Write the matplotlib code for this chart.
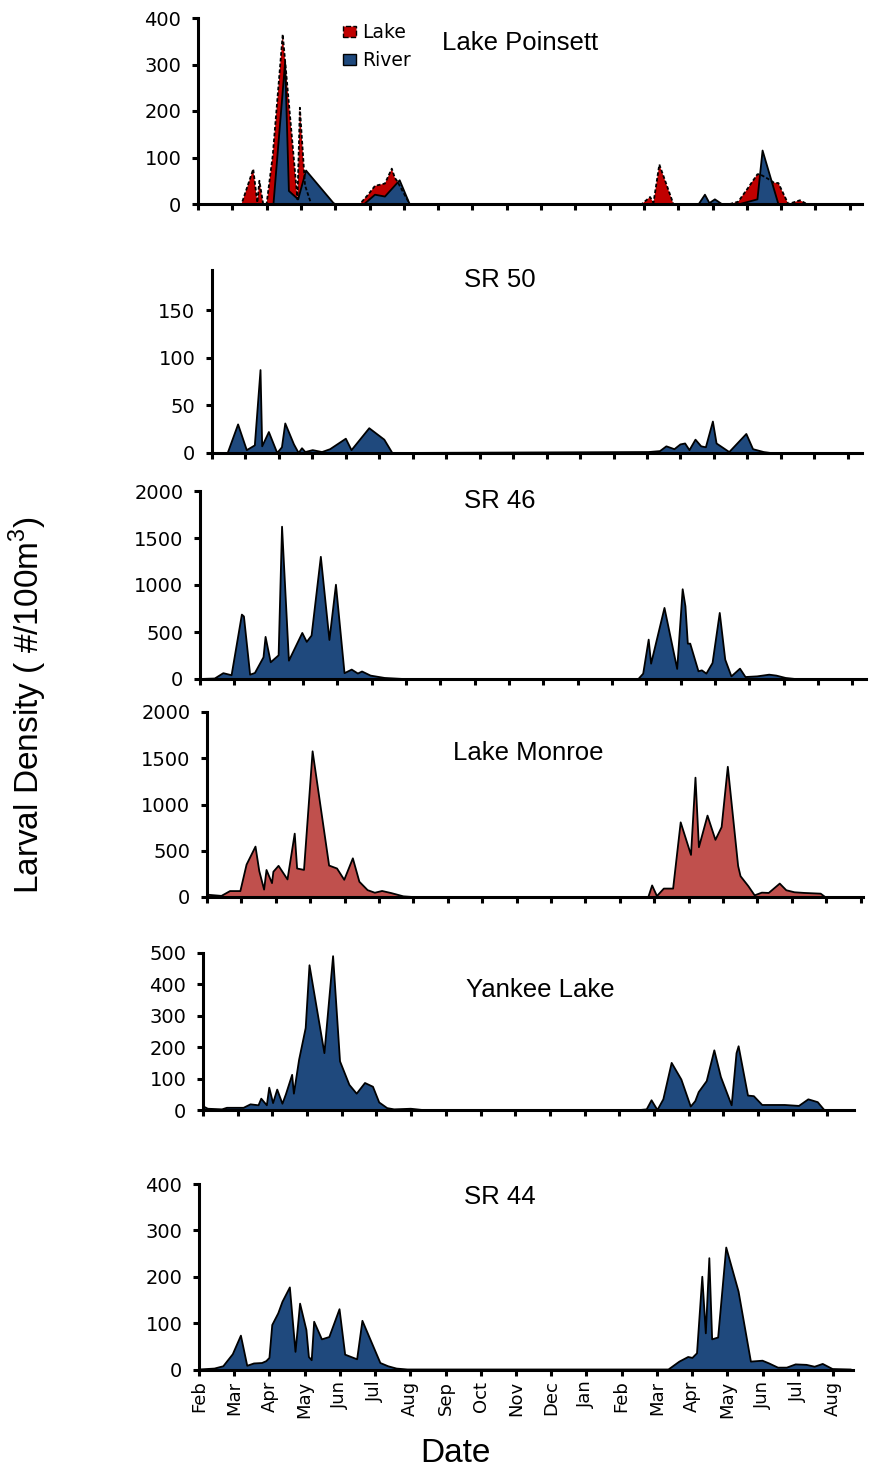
import matplotlib
matplotlib.use("Agg")
import matplotlib.pyplot as plt
from matplotlib.patches import Patch

# x positions are months since 1 Feb of the first year (0 = Feb, 12 = Feb next year)
months = ["Feb", "Mar", "Apr", "May", "Jun", "Jul", "Aug", "Sep", "Oct", "Nov",
          "Dec", "Jan", "Feb", "Mar", "Apr", "May", "Jun", "Jul", "Aug"]

poinsett_lake_m = [0, 1.27, 1.61, 1.73, 1.79, 1.90, 2.0, 2.18, 2.47, 2.9, 2.97, 3.12, 3.3,
                   4.72, 4.97, 5.16, 5.45, 5.65, 5.74, 5.80, 6.17, 12.94, 13.18, 13.28, 13.45, 13.86,
                   15.51, 15.75, 16.04, 16.31, 16.38, 16.6, 16.79, 16.92, 17.21, 17.55, 17.75, 19.0]
poinsett_lake_v = [0, 0, 75, 3, 50, 0, 0, 105, 365, 10, 207, 40, 0,
                   0, 21, 39, 44, 76, 56, 50, 0, 0, 15, 3, 85, 0,
                   0, 5, 35, 64, 64, 55, 46, 45, 0, 8, 0, 0]
poinsett_river_m = [0, 2.2, 2.54, 2.65, 2.92, 3.15, 3.95, 4.0, 4.85, 5.16, 5.45, 5.88, 6.17,
                    14.6, 14.78, 14.91, 15.07, 15.27, 15.8, 16.31, 16.46, 16.92, 19.0]
poinsett_river_v = [0, 0, 305, 28, 10, 72, 2, 0, 0, 20, 16, 51, 0,
                    0, 20, 2, 10, 0, 0, 10, 115, 0, 0]

sr50_m = [0, 0.47, 0.78, 1.04, 1.28, 1.45, 1.50, 1.70, 1.95, 2.09, 2.19, 2.45, 2.59, 2.69,
          2.79, 3.01, 3.29, 3.53, 4.0, 4.17, 4.70, 5.15, 5.39, 13.05, 13.39, 13.58, 13.82,
          14.0, 14.14, 14.27, 14.45, 14.62, 14.76, 14.97, 15.08, 15.46, 15.97, 16.17, 16.49,
          16.7, 19.0]
sr50_v = [0, 0, 30, 3, 8, 87, 7, 22, 0, 6, 31, 9, 0, 5,
          1, 3, 1, 4, 15, 3, 26, 14, 0, 1, 2, 7, 4,
          9, 10, 3, 14, 7, 6, 33, 10, 1, 20, 4, 1,
          0, 0]

sr46_m = [0, 0.43, 0.68, 0.92, 1.22, 1.28, 1.46, 1.60, 1.85, 1.91, 2.06, 2.29, 2.39, 2.59,
          2.98, 3.11, 3.25, 3.52, 3.77, 3.96, 4.21, 4.42, 4.60, 4.72, 4.97, 5.38, 5.93,
          12.77, 12.91, 13.07, 13.14, 13.53, 13.90, 14.06, 14.14, 14.21, 14.28, 14.52, 14.62,
          14.75, 14.93, 15.14, 15.30, 15.48, 15.73, 15.89, 16.23, 16.58, 16.79, 17.06, 17.34, 19.0]
sr46_v = [0, 5, 62, 40, 685, 665, 46, 64, 231, 448, 178, 252, 1620, 195,
          490, 395, 462, 1300, 415, 1003, 62, 100, 58, 80, 36, 11, 0,
          0, 57, 419, 163, 756, 107, 955, 774, 376, 376, 82, 92,
          57, 170, 703, 206, 28, 110, 21, 28, 46, 36, 11, 0, 0]

monroe_m = [0, 0.42, 0.67, 0.97, 1.15, 1.41, 1.52, 1.66, 1.73, 1.89, 1.93, 2.08, 2.34, 2.55,
            2.62, 2.82, 3.07, 3.55, 3.78, 3.99, 4.24, 4.43, 4.67, 4.88, 5.09, 5.36, 5.71, 5.98,
            12.83, 12.94, 13.08, 13.28, 13.55, 13.77, 14.07, 14.20, 14.30, 14.55, 14.78, 14.96,
            15.14, 15.44, 15.51, 15.74, 15.92, 16.13, 16.33, 16.65, 16.84, 17.08, 17.36, 17.84,
            17.97, 19.0]
monroe_v = [25, 12, 64, 64, 350, 545, 280, 80, 292, 150, 273, 337, 190, 685,
            308, 293, 1575, 340, 308, 186, 418, 165, 74, 46, 65, 42, 7, 0,
            0, 125, 10, 91, 91, 807, 455, 1290, 538, 880, 618, 756,
            1408, 335, 225, 116, 18, 47, 44, 145, 73, 51, 44, 36,
            0, 0]

yankee_m = [0, 0.14, 0.55, 0.69, 1.17, 1.37, 1.6, 1.68, 1.84, 1.91, 2.02, 2.14, 2.29, 2.39,
            2.57, 2.62, 2.77, 2.96, 3.07, 3.50, 3.75, 3.95, 4.22, 4.43, 4.67, 4.90, 5.08, 5.31,
            5.51, 5.99, 6.33, 12.6, 12.79, 12.93, 13.1, 13.27, 13.51, 13.79, 14.06, 14.19, 14.29,
            14.52, 14.74, 14.93, 15.24, 15.38, 15.44, 15.71, 15.88, 16.12, 16.77, 17.18, 17.45,
            17.72, 17.91]
yankee_v = [12, 4, 2, 7, 7, 18, 15, 36, 15, 71, 22, 65, 20, 50,
            112, 52, 160, 261, 461, 181, 490, 155, 80, 52, 86, 74, 24, 6,
            2, 4, 0, 0, 2, 31, 0, 34, 150, 97, 11, 28, 57,
            92, 190, 105, 15, 181, 203, 46, 44, 16, 16, 13, 34,
            25, 0]

sr44_m = [0, 0.44, 0.69, 0.96, 1.19, 1.37, 1.56, 1.79, 1.91, 2.0, 2.08, 2.25, 2.37, 2.58,
          2.74, 2.87, 3.05, 3.12, 3.20, 3.27, 3.49, 3.70, 3.99, 4.15, 4.49, 4.64, 5.15, 5.37,
          5.61, 5.92, 13.33, 13.64, 13.89, 14.01, 14.14, 14.29, 14.39, 14.49, 14.57, 14.74,
          14.97, 15.32, 15.67, 16.0, 16.19, 16.44, 16.69, 16.94, 17.25, 17.48, 17.71, 17.99, 18.5]
sr44_v = [0, 2, 7, 33, 73, 8, 13, 14, 18, 25, 96, 121, 146, 177,
          38, 142, 85, 27, 20, 103, 65, 70, 130, 32, 22, 105, 14, 7,
          2, 0, 0, 17, 27, 25, 35, 200, 78, 240, 65, 69,
          263, 168, 17, 19, 13, 4, 4, 11, 10, 6, 12, 1, 0]

BLUE = "#1F497D"
RED = "#C00000"
MONROE_RED = "#C0504D"

W, H = 871, 1470
fig = plt.figure(figsize=(W / 100, H / 100), dpi=100)
plt.rcParams["font.family"] = "Liberation Sans"


def make_panel(left, right, top, zero, month_px, ymax, ystep, nticks):
    ax = fig.add_axes([left / W, 1 - zero / H, (right - left) / W, (zero - top) / H])
    ax.set_xlim(0, (right - left) / month_px)
    ax.set_ylim(0, ymax)
    for s in ["top", "right"]:
        ax.spines[s].set_visible(False)
    for s in ["left", "bottom"]:
        ax.spines[s].set_linewidth(2.2)
    ax.set_xticks(range(nticks))
    ax.set_xticklabels([])
    yt = list(range(0, int(ymax) + 1, ystep))
    ax.set_yticks(yt)
    ax.set_yticklabels([str(v) for v in yt], family="DejaVu Sans", fontsize=14)
    ax.tick_params(axis="both", direction="out", length=4, width=2.2)
    ax.tick_params(axis="y", pad=8)
    return ax


def area(ax, m, v, color, dashed=False):
    ax.fill_between(m, v, 0, facecolor=color, linewidth=0)
    if dashed:
        ax.plot(m, v, color="black", lw=1.3, ls=(0, (2, 1.2)))
    else:
        ax.plot(m, v, color="black", lw=1.3)


# Lake Poinsett
ax1 = make_panel(198, 862, 18, 204, 34.3, 400, 100, 20)
area(ax1, poinsett_lake_m, poinsett_lake_v, RED, dashed=True)
area(ax1, poinsett_river_m, poinsett_river_v, BLUE)
fig.legend([Patch(facecolor=RED, edgecolor="black", linestyle="--", linewidth=1),
            Patch(facecolor=BLUE, edgecolor="black", linewidth=1)],
           ["Lake", "River"], loc="upper left", bbox_to_anchor=(343 / W, 1 - 23 / H),
           frameon=False, handlelength=0.7, handleheight=0.55, handletextpad=0.3,
           labelspacing=0.5, borderpad=0, borderaxespad=0,
           prop={"family": "DejaVu Sans", "size": 13.5})

# SR 50
ax2 = make_panel(212, 862, 270, 453, 33.46, 192, 50, 20)
area(ax2, sr50_m, sr50_v, BLUE)

# SR 46
ax3 = make_panel(200, 866, 491, 679, 34.33, 2000, 500, 20)
area(ax3, sr46_m, sr46_v, BLUE)

# Lake Monroe
ax4 = make_panel(207, 863, 712, 897, 34.4, 2000, 500, 20)
area(ax4, monroe_m, monroe_v, MONROE_RED)

# Yankee Lake
ax5 = make_panel(203, 854, 953, 1110, 34.69, 500, 100, 19)
area(ax5, yankee_m, yankee_v, BLUE)

# SR 44
ax6 = make_panel(199, 853, 1184, 1369.5, 35.22, 400, 100, 19)
area(ax6, sr44_m, sr44_v, BLUE)
ax6.set_xticklabels(months, rotation=90, family="DejaVu Sans", fontsize=13)
ax6.tick_params(axis="x", pad=4)

titles = [("Lake Poinsett", 520, 43), ("SR 50", 500, 280), ("SR 46", 500, 501),
          ("Lake Monroe", 528, 753), ("Yankee Lake", 540, 990), ("SR 44", 500, 1197)]
for t, x, y in titles:
    fig.text(x / W, 1 - y / H, t, ha="center", va="center", fontsize=18.5)

fig.text(28 / W, 1 - 705 / H, "Larval Density ( #/100m$^{\\mathregular{3}}$)", rotation=90,
         ha="center", va="center", fontsize=24)
fig.text(455 / W, 1 - 1453 / H, "Date", ha="center", va="center", fontsize=24)

fig.savefig("out.png", dpi=100)
